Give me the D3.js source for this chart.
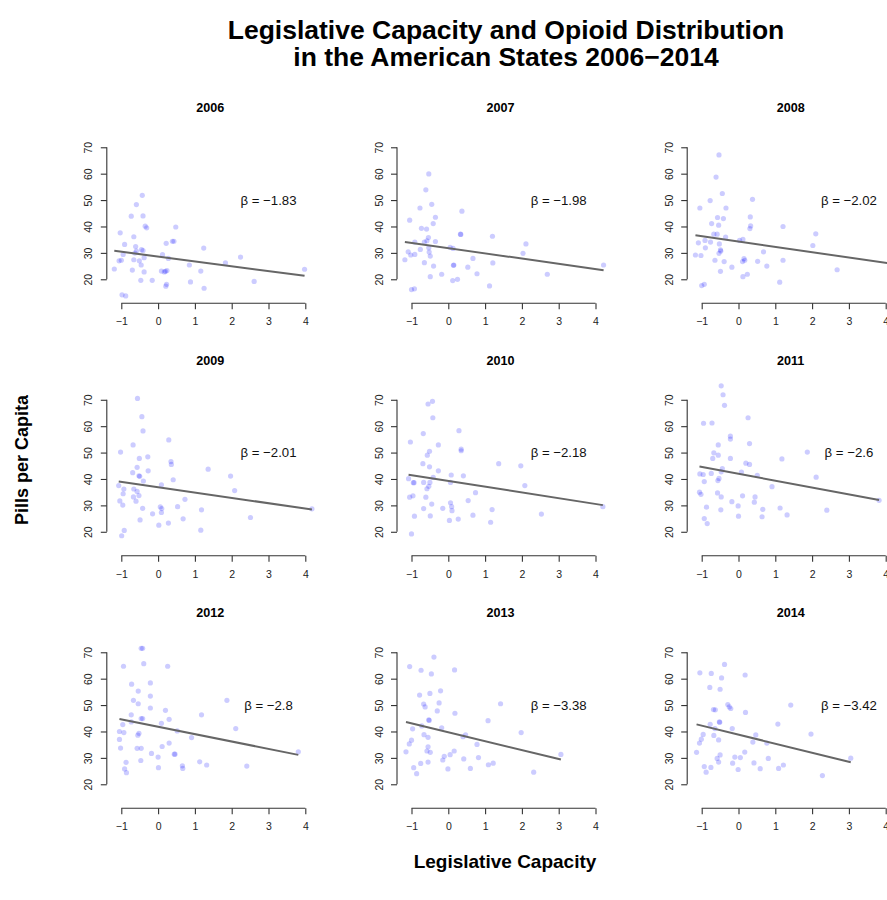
<!DOCTYPE html>
<html>
<head>
<meta charset="utf-8">
<script src="https://cdn.jsdelivr.net/npm/d3@7"></script>
<style>
  body { margin: 0; background: #fff; }
  svg { display: block; font-family: "Liberation Sans", Arial, Helvetica, sans-serif; }
</style>
</head>
<body>
<svg width="887" height="900"></svg>
<script>
// years shown, one panel each
const years = [2006, 2007, 2008, 2009, 2010, 2011, 2012, 2013, 2014];
const betas = [-1.83, -1.98, -2.02, -2.01, -2.18, -2.6, -2.8, -3.38, -3.42];
const intercepts = [28.6, 31.8, 34.3, 36.85, 39.25, 41.95, 41.8, 39.7, 38.8];
const betaLabels = ["−1.83", "−1.98", "−2.02", "−2.01", "−2.18", "−2.6", "−2.8", "−3.38", "−3.42"];

const xTicks = [-1, 0, 1, 2, 3, 4];
const xTickLabels = ["−1", "0", "1", "2", "3", "4"];
const yTicks = [20, 30, 40, 50, 60, 70];
const yTickLabels = ["20", "30", "40", "50", "60", "70"];

// [legislative capacity, pills per capita]
const pts2006 = [[-1.19,23.9],[-1.03,37.6],[-1.06,27.0],[-1.0,27.2],[-0.95,29.4],[-0.91,33.2],[-0.98,14.1],[-0.88,13.7],
  [-0.73,43.9],[-0.59,48.3],[-0.66,36.1],[-0.61,32.4],[-0.63,29.9],[-0.59,30.7],[-0.66,27.4],[-0.70,23.5],[-0.51,27.0],
  [-0.46,25.4],[-0.45,31.2],[-0.41,30.9],[-0.43,51.8],[-0.41,44.0],[-0.38,28.2],[-0.38,22.8],[-0.47,19.6],[-0.35,40.1],
  [-0.31,39.5],[-0.16,19.6],[0.09,23.1],[0.12,29.3],[0.17,22.8],[0.20,23.0],[0.24,23.3],[0.22,33.6],[0.28,27.9],
  [0.23,18.1],[0.21,17.4],[0.39,34.4],[0.43,34.4],[0.48,39.8],[0.85,25.4],[0.88,19.0],[1.16,23.1],[1.24,31.8],
  [1.25,16.6],[1.83,26.2],[2.24,28.4],[2.61,19.2],[3.98,23.8]];
const pts2007 = [[-1.18,27.4],[-1.09,30.4],[-1.05,42.4],[-1.02,29.2],[-0.91,29.4],[-0.91,34.1],[-1.0,16.1],[-0.92,16.4],
  [-0.76,31.3],[-0.77,47.0],[-0.73,39.3],[-0.65,34.1],[-0.65,26.3],[-0.61,53.9],[-0.59,39.0],[-0.58,34.6],[-0.54,35.8],
  [-0.53,59.9],[-0.53,31.9],[-0.52,30.3],[-0.49,28.8],[-0.49,21.0],[-0.45,48.4],[-0.41,41.1],[-0.40,25.0],[-0.35,43.5],
  [-0.35,34.3],[-0.18,21.9],[0.05,32.1],[0.13,31.7],[0.14,25.3],[0.15,25.4],[0.12,19.5],[0.25,20.0],[0.33,37.1],
  [0.34,37.0],[0.37,45.8],[0.53,24.6],[0.67,27.9],[0.78,22.1],[1.12,17.5],[1.20,36.3],[1.21,26.2],[2.03,29.8],
  [2.11,33.4],[2.69,21.9],[4.22,25.4]];
const pts2008 = [[-1.17,29.2],[-1.09,33.8],[-1.05,47.0],[-1.02,29.0],[-1.0,17.6],[-0.93,18.1],[-0.91,34.7],[-0.90,31.9],
  [-0.77,49.8],[-0.76,34.1],[-0.73,41.1],[-0.67,37.1],[-0.64,27.2],[-0.61,58.7],[-0.58,37.1],[-0.57,43.4],[-0.54,40.5],
  [-0.53,67.1],[-0.52,33.4],[-0.53,29.8],[-0.49,31.1],[-0.48,30.7],[-0.49,23.0],[-0.44,52.5],[-0.41,43.0],[-0.39,26.7],
  [-0.34,47.0],[-0.35,36.0],[-0.18,24.6],[0.03,34.7],[0.12,35.1],[0.11,26.7],[0.15,27.8],[0.17,27.2],[0.12,21.0],
  [0.24,21.9],[0.32,43.6],[0.33,40.2],[0.31,39.2],[0.38,50.3],[0.52,26.8],[0.68,30.4],[0.77,25.0],[1.12,18.9],
  [1.21,40.0],[1.21,27.2],[2.02,32.8],[2.10,37.2],[2.68,23.6],[4.2,26.0]];
const pts2009 = [[-1.07,37.5],[-1.04,31.7],[-1.02,50.2],[-0.99,18.5],[-0.96,30.1],[-0.95,34.4],[-0.93,36.2],[-0.92,20.5],
  [-0.69,42.4],[-0.68,52.9],[-0.67,33.2],[-0.66,36.2],[-0.60,31.6],[-0.57,44.4],[-0.57,35.3],[-0.56,70.5],[-0.52,33.7],
  [-0.51,47.8],[-0.52,41.2],[-0.50,41.0],[-0.49,24.5],[-0.44,63.6],[-0.42,28.9],[-0.41,58.2],[-0.40,39.2],[-0.28,48.4],
  [-0.27,43.1],[-0.15,26.8],[0.02,22.5],[0.06,29.4],[0.09,37.8],[0.10,28.8],[0.09,27.3],[0.29,54.8],[0.28,23.3],
  [0.35,46.6],[0.36,45.5],[0.41,39.7],[0.53,29.5],[0.68,24.9],[0.73,32.3],[1.16,20.6],[1.18,28.3],[1.36,43.7],
  [1.97,41.1],[2.08,35.6],[2.51,25.4],[4.18,28.7]];
const pts2010 = [[-1.08,40.1],[-1.05,33.1],[-1.03,54.0],[-1.0,19.2],[-0.96,33.6],[-0.95,38.6],[-0.93,38.6],[-0.92,25.9],
  [-0.69,45.8],[-0.68,57.2],[-0.67,38.7],[-0.67,28.8],[-0.61,33.1],[-0.58,36.3],[-0.57,49.0],[-0.55,68.4],[-0.53,37.2],
  [-0.51,50.5],[-0.51,44.6],[-0.50,38.7],[-0.49,26.0],[-0.45,30.5],[-0.43,69.4],[-0.42,63.2],[-0.41,40.6],[-0.27,52.9],
  [-0.27,43.1],[-0.15,28.9],[0.03,24.3],[0.06,31.0],[0.06,38.7],[0.08,41.5],[0.09,29.5],[0.10,28.0],[0.27,24.8],
  [0.29,58.3],[0.35,51.3],[0.35,50.7],[0.41,41.2],[0.54,31.8],[0.67,26.3],[0.74,34.8],[1.15,23.6],[1.19,28.4],
  [1.37,45.8],[1.97,45.0],[2.08,37.5],[2.53,26.7],[4.2,29.5]];
const pts2011 = [[-1.06,35.0],[-1.05,41.9],[-1.02,34.2],[-0.96,41.7],[-0.95,61.1],[-0.93,39.0],[-0.93,25.0],[-0.87,29.3],
  [-0.85,23.1],[-0.74,42.1],[-0.72,61.2],[-0.70,47.8],[-0.67,49.9],[-0.57,34.7],[-0.56,39.4],[-0.55,52.9],[-0.55,49.0],
  [-0.53,40.2],[-0.48,28.3],[-0.47,33.2],[-0.47,75.3],[-0.47,42.7],[-0.44,43.9],[-0.42,71.9],[-0.38,67.9],[-0.22,56.2],
  [-0.22,55.1],[-0.22,47.8],[-0.18,31.4],[-0.01,29.8],[0.0,25.9],[0.08,42.6],[0.11,33.6],[0.20,46.0],[0.26,63.2],
  [0.30,45.5],[0.30,53.4],[0.43,31.2],[0.45,33.2],[0.51,41.4],[0.66,28.5],[0.64,25.7],[0.91,37.1],[1.13,29.0],
  [1.18,47.6],[1.32,26.4],[1.87,50.2],[2.11,40.7],[2.40,28.2],[3.82,31.9]];
const pts2012 = [[-1.05,37.0],[-1.05,40.0],[-1.02,33.7],[-0.96,42.6],[-0.94,64.7],[-0.93,39.6],[-0.87,28.3],[-0.91,25.8],
  [-0.86,24.4],[-0.73,46.3],[-0.72,57.9],[-0.73,43.6],[-0.67,51.8],[-0.57,33.6],[-0.55,38.6],[-0.54,55.3],[-0.54,50.5],
  [-0.52,39.3],[-0.47,29.0],[-0.46,71.5],[-0.42,71.5],[-0.46,44.9],[-0.42,44.9],[-0.46,33.6],[-0.39,65.7],[-0.21,58.4],
  [-0.21,53.4],[-0.21,48.9],[-0.18,31.7],[0.0,30.3],[0.01,26.3],[0.09,43.1],[0.11,34.3],[0.20,48.0],[0.26,64.7],
  [0.30,44.6],[0.30,35.6],[0.44,31.4],[0.46,31.4],[0.52,40.2],[0.66,27.0],[0.67,26.0],[0.91,37.7],[1.13,28.5],
  [1.18,46.3],[1.32,27.3],[1.87,51.8],[2.11,41.1],[2.41,26.9],[3.81,32.3]];
const pts2013 = [[-1.15,32.3],[-1.06,35.3],[-1.05,64.6],[-1.0,36.7],[-0.97,41.0],[-0.94,26.3],[-0.86,24.0],[-0.78,53.8],
  [-0.75,27.9],[-0.74,63.2],[-0.72,42.1],[-0.67,50.4],[-0.66,38.8],[-0.63,49.3],[-0.58,32.6],[-0.55,34.2],[-0.55,37.8],
  [-0.53,44.4],[-0.52,44.2],[-0.50,54.4],[-0.49,32.1],[-0.55,28.4],[-0.46,61.8],[-0.39,68.2],[-0.30,47.8],[-0.25,50.8],
  [-0.21,55.4],[-0.18,41.4],[-0.15,29.2],[-0.11,30.6],[-0.01,25.8],[0.05,31.2],[0.17,63.3],[0.18,46.9],[0.16,32.6],
  [0.40,38.0],[0.42,29.6],[0.47,38.7],[0.60,26.0],[0.78,35.1],[0.82,30.1],[1.08,44.1],[1.09,27.4],[1.22,28.0],
  [1.42,50.5],[1.98,39.6],[2.32,24.6],[3.06,31.3]];
const pts2014 = [[-1.14,32.1],[-1.06,35.6],[-1.05,62.2],[-1.01,37.1],[-0.96,38.9],[-0.93,26.7],[-0.88,24.6],[-0.78,56.7],
  [-0.77,42.7],[-0.75,26.4],[-0.74,62.0],[-0.68,48.3],[-0.67,38.5],[-0.63,48.2],[-0.64,41.1],[-0.58,29.8],[-0.54,28.4],
  [-0.54,36.8],[-0.52,43.6],[-0.51,43.5],[-0.50,31.1],[-0.50,56.0],[-0.46,60.3],[-0.38,65.4],[-0.29,50.2],[-0.25,49.3],
  [-0.21,48.7],[-0.17,41.1],[-0.16,28.0],[-0.10,30.3],[-0.01,25.6],[0.05,30.1],[0.18,61.4],[0.19,47.2],[0.17,32.2],
  [0.39,36.0],[0.42,28.1],[0.47,38.7],[0.59,25.9],[0.77,35.6],[0.81,29.8],[1.07,42.8],[1.09,26.0],[1.22,27.3],
  [1.42,50.0],[1.97,39.0],[2.28,23.3],[3.05,29.9]];
const panelPoints = [pts2006, pts2007, pts2008, pts2009, pts2010, pts2011, pts2012, pts2013, pts2014];

const svg = d3.select("svg");
const font = "\"Liberation Sans\", Arial, Helvetica, sans-serif";

// panel grid (3 x 3), the last column runs off the right edge as in the original
const colStep = 290.2, rowStep = 252.5;
const left0 = 106.8, bottom0 = 303.3;
const pw = 210, ph = 180;
const pxPerX = 36.8, pxPerY = 2.64;
const xLo = -1.394, yLo = 10.9;

svg.append("rect").attr("width", 887).attr("height", 900).attr("fill", "#fff");

years.forEach((yr, i) => {
  const col = i % 3, row = Math.floor(i / 3);
  const left = left0 + col * colStep;
  const bottom = bottom0 + row * rowStep;

  const x = d3.scaleLinear().domain([xLo, xLo + pw / pxPerX]).range([left, left + pw]);
  const y = d3.scaleLinear().domain([yLo, yLo + ph / pxPerY]).range([bottom, bottom - ph]);

  const g = svg.append("g");

  // panel title
  g.append("text")
    .attr("x", left + 103.5)
    .attr("y", y(70) - 35)
    .attr("text-anchor", "middle")
    .attr("font-weight", "bold")
    .attr("font-size", 12.6)
    .text(yr);

  // x axis
  const xa = g.append("g")
    .attr("transform", `translate(0,${bottom})`)
    .call(d3.axisBottom(x).tickValues(xTicks).tickSize(6).tickFormat((d, k) => xTickLabels[k]));
  xa.select(".domain").remove();
  xa.append("line")
    .attr("x1", x(xTicks[0])).attr("x2", x(xTicks[xTicks.length - 1]))
    .attr("stroke", "#333").attr("stroke-width", 1.1);
  xa.selectAll(".tick line").attr("stroke", "#333").attr("stroke-width", 1.1);
  xa.selectAll(".tick text")
    .attr("y", 22).attr("dy", null)
    .attr("font-size", 10.5).attr("font-family", font).attr("fill", "#222");

  // y axis
  const ya = g.append("g")
    .attr("transform", `translate(${left},0)`)
    .call(d3.axisLeft(y).tickValues(yTicks).tickSize(6).tickFormat((d, k) => yTickLabels[k]));
  ya.select(".domain").remove();
  ya.append("line")
    .attr("y1", y(yTicks[0])).attr("y2", y(yTicks[yTicks.length - 1]))
    .attr("stroke", "#333").attr("stroke-width", 1.1);
  ya.selectAll(".tick line").attr("stroke", "#333").attr("stroke-width", 1.1);
  ya.selectAll(".tick text")
    .attr("transform", "rotate(-90)")
    .attr("x", 0).attr("y", -14.4).attr("dy", null)
    .attr("text-anchor", "middle")
    .attr("font-size", 10.5).attr("font-family", font).attr("fill", "#222");

  // points
  const pts = panelPoints[i];
  g.append("g")
    .selectAll("circle")
    .data(pts)
    .join("circle")
      .attr("cx", d => x(d[0]))
      .attr("cy", d => y(d[1]))
      .attr("r", 2.6)
      .attr("fill", "rgba(0,0,255,0.2)");

  // fitted line over the range of the data
  const [xmin, xmax] = d3.extent(pts, d => d[0]);
  g.append("line")
    .attr("x1", x(xmin)).attr("y1", y(intercepts[i] + betas[i] * xmin))
    .attr("x2", x(xmax)).attr("y2", y(intercepts[i] + betas[i] * xmax))
    .attr("stroke", "#666")
    .attr("stroke-width", 2);

  g.append("text")
    .attr("x", x(3))
    .attr("y", y(50))
    .attr("dy", "0.35em")
    .attr("text-anchor", "middle")
    .attr("font-size", 13.2)
    .attr("fill", "#111")
    .text("β = " + betaLabels[i]);
});

// main title
const title = svg.append("text")
  .attr("text-anchor", "middle")
  .attr("font-weight", "bold")
  .attr("font-size", 26.5);
title.append("tspan").attr("x", 506).attr("y", 39).text("Legislative Capacity and Opioid Distribution");
title.append("tspan").attr("x", 506).attr("y", 66).text("in the American States 2006−2014");

// outer axis labels
svg.append("text")
  .attr("transform", "translate(28,460) rotate(-90)")
  .attr("text-anchor", "middle")
  .attr("font-weight", "bold")
  .attr("font-size", 18)
  .text("Pills per Capita");

svg.append("text")
  .attr("x", 505)
  .attr("y", 868)
  .attr("text-anchor", "middle")
  .attr("font-weight", "bold")
  .attr("font-size", 19)
  .text("Legislative Capacity");
</script>
</body>
</html>
